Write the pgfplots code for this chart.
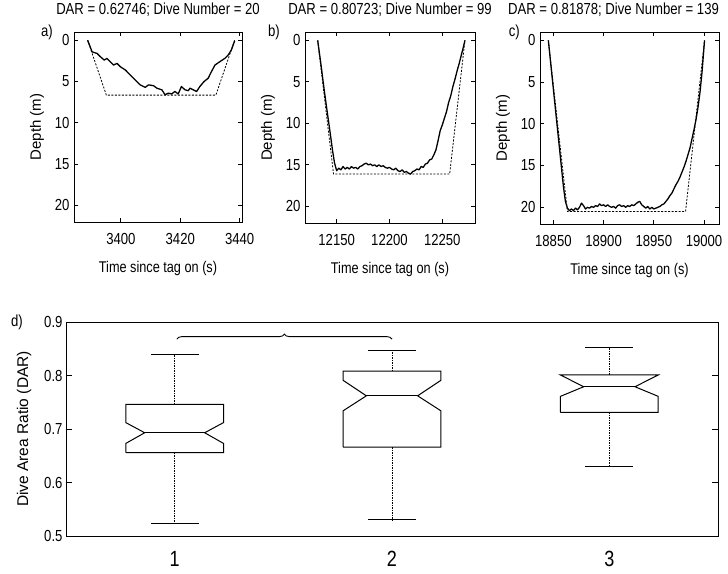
\documentclass[border=0pt]{standalone}
\usepackage{pgfplots}
\pgfplotsset{compat=1.18}
\usepackage{fontspec}
\setmainfont{Liberation Sans}[FakeStretch=0.82]
\newfontfamily\rotfont{Liberation Sans}
\usetikzlibrary{decorations.pathreplacing}

\tikzset{
 plab/.style={anchor=east, inner sep=0pt, font=\fontsize{16}{18}\selectfont},
 solidline/.style={black, line width=1.3pt, line join=round},
 dashline/.style={black, line width=0.8pt, dash pattern=on 2pt off 1.5pt},
}
\pgfplotsset{
 common/.style={
  scale only axis,
  anchor=south west,
  clip mode=individual,
  axis line style={line width=0.9pt},
  tick align=inside,
  xtick pos=both, ytick pos=both,
  tick style={line width=0.8pt, black},
  /pgf/number format/assume math mode=true,
  /pgf/number format/1000 sep={},
  scaled ticks=false,
 },
 panel/.style={
  common,
  major tick length=4pt,
  y dir=reverse,
  ymin=-1, ymax=22,
  ytick={0,5,10,15,20},
  ticklabel style={font=\fontsize{16}{18}\selectfont},
  xticklabel style={yshift=-8pt},
  yticklabel style={xshift=-1pt},
  xlabel={Time since tag on (s)},
  ylabel={Depth (m)},
  xlabel style={font=\fontsize{15.5}{18}\selectfont, at={(axis description cs:0.5,0)}, anchor=north, yshift=-36pt},
  ylabel style={font=\rotfont\fontsize{15}{18}\selectfont, yshift=4pt},
  title style={font=\fontsize{16}{18}\selectfont, at={(axis description cs:0.5,1)}, anchor=base, yshift=11pt},
 },
}

\begin{document}
\begin{tikzpicture}
\useasboundingbox (0pt,0pt) rectangle (728pt,573pt);

% ---------- panel a ----------
\begin{axis}[panel, at={(74pt,351pt)}, width=168pt, height=190pt,
  xmin=3384.2, xmax=3440.8, xtick={3400,3420,3440},
  title={DAR = 0.62746; Dive Number = 20}]
\addplot[solidline] coordinates {
(3388.8,0) (3390.3,1.4) (3392,1.6) (3393.1,2.0) (3394.4,2.4) (3395.3,2.2)
(3396.4,2.6) (3397.5,3.0) (3398.7,2.8) (3399.8,3.2) (3401.5,3.6) (3402.6,4.0)
(3403.7,4.4) (3404.8,4.8) (3406.5,5.4) (3408.2,5.7) (3409.3,5.4) (3411,5.5)
(3412.1,5.8) (3413.8,6.0) (3414.9,6.6) (3416,6.4) (3417.1,6.5) (3418.2,6.2)
(3419.3,6.5) (3420.4,5.6) (3421.6,6.0) (3422.7,6.1) (3423.3,5.8) (3424.4,6.0)
(3425.5,6.2) (3426.6,5.6) (3428,5.0) (3429.4,4.6) (3430.5,3.8) (3431.7,3.0)
(3433.3,2.6) (3435,2.2) (3436.1,1.8) (3437.2,1.2) (3438.3,0.1)};
\addplot[dashline] coordinates {(3388.8,0) (3395.1,6.64) (3432,6.64) (3438.3,0)};
\node[plab] at ([xshift=-21pt]axis description cs:0,1) {a)};
\end{axis}

% ---------- panel b ----------
\begin{axis}[panel, at={(305pt,350pt)}, width=170pt, height=191pt,
  xmin=12120, xmax=12281, xtick={12150,12200,12250},
  title={DAR = 0.80723; Dive Number = 99}]
\addplot[solidline] coordinates {
(12132,0) (12135,2.8) (12138,5.8) (12141,8.6) (12144,11.3) (12146,13.2)
(12148,14.8) (12150,15.7) (12152,15.4) (12154,15.6) (12156,15.2) (12158,15.5)
(12160,15.3) (12162,15.5) (12164,15.2) (12166,15.4) (12168,15.3) (12170,15.5)
(12172,15.2) (12174,15.1) (12176,14.9) (12178,14.8) (12180,15.0) (12182,14.9)
(12184,15.1) (12186,15.0) (12188,15.2) (12190,15.0) (12192,15.2) (12194,15.1)
(12196,15.3) (12198,15.4) (12200,15.3) (12202,15.5) (12204,15.6) (12206,15.4)
(12208,15.7) (12210,15.8) (12212,15.6) (12214,15.9) (12216,15.8) (12218,16.0)
(12220,16.1) (12222,15.8) (12224,15.7) (12226,15.5) (12228,15.6) (12230,15.2)
(12232,15.3) (12234,14.9) (12236,14.8) (12238,14.4) (12240,14.3) (12242,13.8)
(12244,13.2) (12246,12.1) (12248,10.9) (12250,10.2) (12252,9.4) (12254,8.6)
(12256,7.5) (12258,6.7) (12260,5.6) (12262,4.7) (12264,3.7) (12266,2.8)
(12268,1.8) (12270,0.8) (12271.5,0)};
\addplot[dashline] coordinates {(12132,0) (12147,16.1) (12257,16.1) (12271.5,0)};
\node[plab] at ([xshift=-25pt]axis description cs:0,1) {b)};
\end{axis}

% ---------- panel c ----------
\begin{axis}[panel, at={(540pt,349pt)}, width=179pt, height=192pt,
  xmin=18836.7, xmax=19014.9, xtick={18850,18900,18950,19000},
  title={DAR = 0.81878; Dive Number = 139},
  title style={xshift=-16pt}]
\addplot[solidline] coordinates {
(18845,0) (18848,3.5) (18851,7) (18854,10.5) (18857,14) (18860,17.5)
(18862,19.3) (18864,20.1) (18866,20.4) (18868,20.2) (18870,20.4) (18872,20.1)
(18874,20.3) (18876,20.0) (18878,19.5) (18880,19.8) (18882,20.2) (18884,20.0)
(18886,20.1) (18888,19.9) (18890,20.0) (18892,19.8) (18894,19.9) (18896,19.6)
(18898,19.8) (18900,19.7) (18902,19.9) (18904,19.7) (18906,19.9) (18908,20.0)
(18910,19.9) (18912,20.1) (18914,19.8) (18916,19.7) (18918,19.9) (18920,19.8)
(18922,20.0) (18924,19.8) (18926,19.9) (18928,19.7) (18930,19.8) (18932,19.6)
(18934,19.4) (18936,19.3) (18938,19.7) (18940,19.9) (18942,20.1) (18944,19.9)
(18946,20.2) (18948,20.0) (18950,20.2) (18952,20.1) (18954,20.0) (18956,19.9)
(18958,19.7) (18960,19.6) (18962,19.3) (18964,19.0) (18966,18.6) (18968,18.3)
(18970,17.8) (18972,17.3) (18974,16.9) (18976,16.4) (18978,15.8) (18980,15.2)
(18982,14.5) (18984,13.7) (18986,12.9) (18988,11.8) (18990,10.7) (18992,9.5)
(18994,8.0) (18996,6.2) (18998,3.8) (19000.5,0)};
\addplot[dashline] coordinates {(18845,0) (18864,20.5) (18981.6,20.5) (19000.5,0)};
\node[plab] at ([xshift=-20pt]axis description cs:0,1) {c)};
\end{axis}

% ---------- panel d ----------
\begin{axis}[common, at={(66pt,37pt)}, width=652pt, height=214pt,
  major tick length=6pt,
  xmin=0.5, xmax=3.5, ymin=0.5, ymax=0.9,
  xtick={1,2,3}, xtick style={draw=none},
  ytick={0.5,0.6,0.7,0.8,0.9},
  yticklabel style={/pgf/number format/fixed, /pgf/number format/precision=1,
     /pgf/number format/fixed zerofill, font=\fontsize{16}{18}\selectfont},
  xticklabel style={font=\fontsize{22}{24}\selectfont, yshift=-12pt},
  ylabel={Dive Area Ratio (DAR)},
  ylabel style={font=\rotfont\fontsize{15.5}{18}\selectfont, yshift=6pt},
  ]
% box 1
\addplot[black, line width=1pt] coordinates {(0.775,0.656) (1.225,0.656) (1.225,0.673) (1.138,0.693) (1.225,0.712) (1.225,0.746) (0.775,0.746) (0.775,0.712) (0.862,0.693) (0.775,0.673) (0.775,0.656)};
\addplot[black, line width=1pt] coordinates {(0.862,0.693) (1.138,0.693)};
\addplot[black, line width=0.8pt, dash pattern=on 1.5pt off 1pt] coordinates {(1,0.746) (1,0.840)};
\addplot[black, line width=0.8pt, dash pattern=on 1.5pt off 1pt] coordinates {(1,0.656) (1,0.524)};
\addplot[black, line width=1pt] coordinates {(0.89,0.840) (1.11,0.840)};
\addplot[black, line width=1pt] coordinates {(0.89,0.524) (1.11,0.524)};
% box 2
\addplot[black, line width=1pt] coordinates {(1.775,0.666) (2.225,0.666) (2.225,0.734) (2.118,0.762) (2.225,0.791) (2.225,0.808) (1.775,0.808) (1.775,0.791) (1.882,0.762) (1.775,0.734) (1.775,0.666)};
\addplot[black, line width=1pt] coordinates {(1.882,0.762) (2.118,0.762)};
\addplot[black, line width=0.8pt, dash pattern=on 1.5pt off 1pt] coordinates {(2,0.808) (2,0.847)};
\addplot[black, line width=0.8pt, dash pattern=on 1.5pt off 1pt] coordinates {(2,0.666) (2,0.530)};
\addplot[black, line width=1pt] coordinates {(1.89,0.847) (2.11,0.847)};
\addplot[black, line width=1pt] coordinates {(1.89,0.530) (2.11,0.530)};
% box 3
\addplot[black, line width=1pt] coordinates {(2.775,0.731) (3.225,0.731) (3.225,0.761) (3.118,0.779) (3.225,0.801) (2.775,0.801) (2.882,0.779) (2.775,0.761) (2.775,0.731)};
\addplot[black, line width=1pt] coordinates {(2.882,0.779) (3.118,0.779)};
\addplot[black, line width=0.8pt, dash pattern=on 1.5pt off 1pt] coordinates {(3,0.801) (3,0.853)};
\addplot[black, line width=0.8pt, dash pattern=on 1.5pt off 1pt] coordinates {(3,0.731) (3,0.630)};
\addplot[black, line width=1pt] coordinates {(2.89,0.853) (3.11,0.853)};
\addplot[black, line width=1pt] coordinates {(2.89,0.630) (3.11,0.630)};
% significance brace
\draw[black, line width=0.9pt, decorate, decoration={brace, amplitude=5pt}]
  (axis cs:1.01,0.868) -- (axis cs:2.0,0.868);
\node[plab] at ([xshift=-43pt]axis description cs:0,1) {d)};
\end{axis}
\end{tikzpicture}
\end{document}
